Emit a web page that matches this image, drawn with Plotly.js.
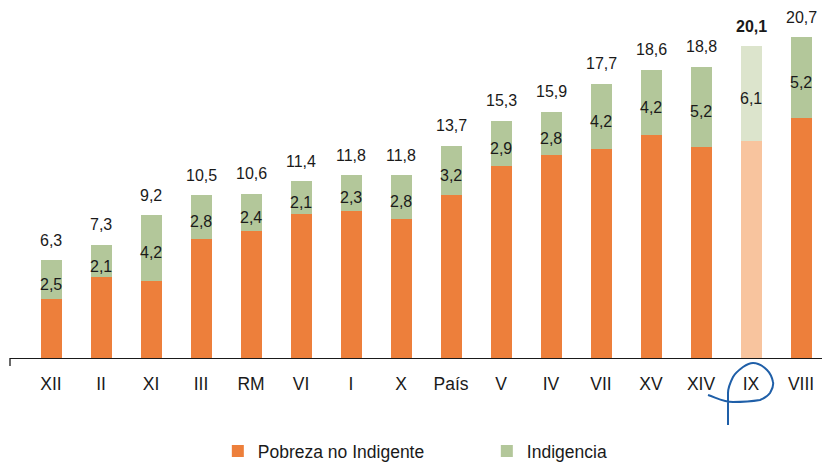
<!DOCTYPE html>
<html>
<head>
<meta charset="utf-8">
<script src="https://cdn.plot.ly/plotly-3.0.1.min.js"></script>
<style>html,body{margin:0;padding:0;background:#fff;}#chart{width:822px;height:465px;}</style>
</head>
<body>
<div id="chart"></div>
<script>
var regions = ["XII","II","XI","III","RM","VI","I","X","País","V","IV","VII","XV","XIV","IX","VIII"];
var totals = [6.3,7.3,9.2,10.5,10.6,11.4,11.8,11.8,13.7,15.3,15.9,17.7,18.6,18.8,20.1,20.7];
var indigencia = [2.5,2.1,4.2,2.8,2.4,2.1,2.3,2.8,3.2,2.9,2.8,4.2,4.2,5.2,6.1,5.2];
var highlight = "IX";

var pobreza = totals.map(function(t,i){ return Math.round((t - indigencia[i])*10)/10; });
var fmt = function(v){ return v.toFixed(1).replace('.', ','); };

var orange = '#ED7F3B', orangeLight = '#F8C49E';
var green = '#B3C79A', greenLight = '#DCE4CC';

var traces = [
  {type:'bar', name:'Pobreza no Indigente', x:regions, y:pobreza, width:0.42,
   marker:{color:regions.map(function(r){return r===highlight?orangeLight:orange;})}, hoverinfo:'skip'},
  {type:'bar', name:'Indigencia', x:regions, y:indigencia, width:0.42,
   marker:{color:regions.map(function(r){return r===highlight?greenLight:green;})}, hoverinfo:'skip'}
];

var font = 'Liberation Sans, Arial, Helvetica, sans-serif';
var annotations = [];
regions.forEach(function(r,i){
  annotations.push({x:r, y:totals[i], xref:'x', yref:'y', text: r===highlight ? '<b>'+fmt(totals[i])+'</b>' : fmt(totals[i]),
    showarrow:false, yanchor:'middle', yshift:20, font:{family:font, size:16, color:'#1a1a1a'}});
  annotations.push({x:r, y:pobreza[i]+indigencia[i]/2, xref:'x', yref:'y', text: fmt(indigencia[i]),
    showarrow:false, yanchor:'middle', yshift:-5, font:{family:font, size:16, color:'#1a1a1a'}});
});

var layout = {
  width:822, height:465,
  margin:{l:10, r:0, t:17, b:107},
  barmode:'stack',
  paper_bgcolor:'#fff', plot_bgcolor:'#fff',
  font:{family:font, color:'#1a1a1a'},
  xaxis:{type:'category', range:[-0.82,15.42], showline:true, linecolor:'#1a1a1a', linewidth:1.3,
    ticks:'', showgrid:false, zeroline:false, ticklabelstandoff:10,
    tickfont:{family:font, size:17.5, color:'#1a1a1a'}, fixedrange:true},
  yaxis:{range:[0,22], visible:false, showgrid:false, zeroline:false, fixedrange:true},
  showlegend:true,
  legend:{orientation:'h', xref:'container', yref:'container', x:0.265, xanchor:'left', y:0.03, yanchor:'middle',
    font:{family:font, size:17.5, color:'#1a1a1a'}, entrywidth:224, entrywidthmode:'pixels', traceorder:'normal'},
  annotations:annotations,
  shapes:[
    {type:'line', xref:'paper', yref:'paper', xsizemode:'pixel', ysizemode:'pixel',
     xanchor:0, yanchor:0, x0:0, x1:0, y0:0, y1:-8, line:{color:'#1a1a1a', width:1.3}},
    {type:'path', xref:'paper', yref:'paper', xsizemode:'pixel', ysizemode:'pixel', xanchor:0.9138, yanchor:0,
     path:'M-44,-37 C-35,-40 -28,-44 -19,-44 C-8,-44 2,-43 8,-42 C13,-40 16,-38 18,-35 C20,-31 22,-28 21,-24 C20,-19 18,-15 15,-12 C11,-8 6,-5 1,-5 C-3,-5 -6,-7 -9,-9 C-13,-12 -17,-15 -19,-19 C-22,-25 -24,-30 -24,-35 C-24,-42 -24,-48 -24,-52 L-24,-67',
     line:{color:'#1F5FA8', width:2}}
  ]
};

Plotly.newPlot('chart', traces, layout, {displayModeBar:false, staticPlot:true});
</script>
</body>
</html>
